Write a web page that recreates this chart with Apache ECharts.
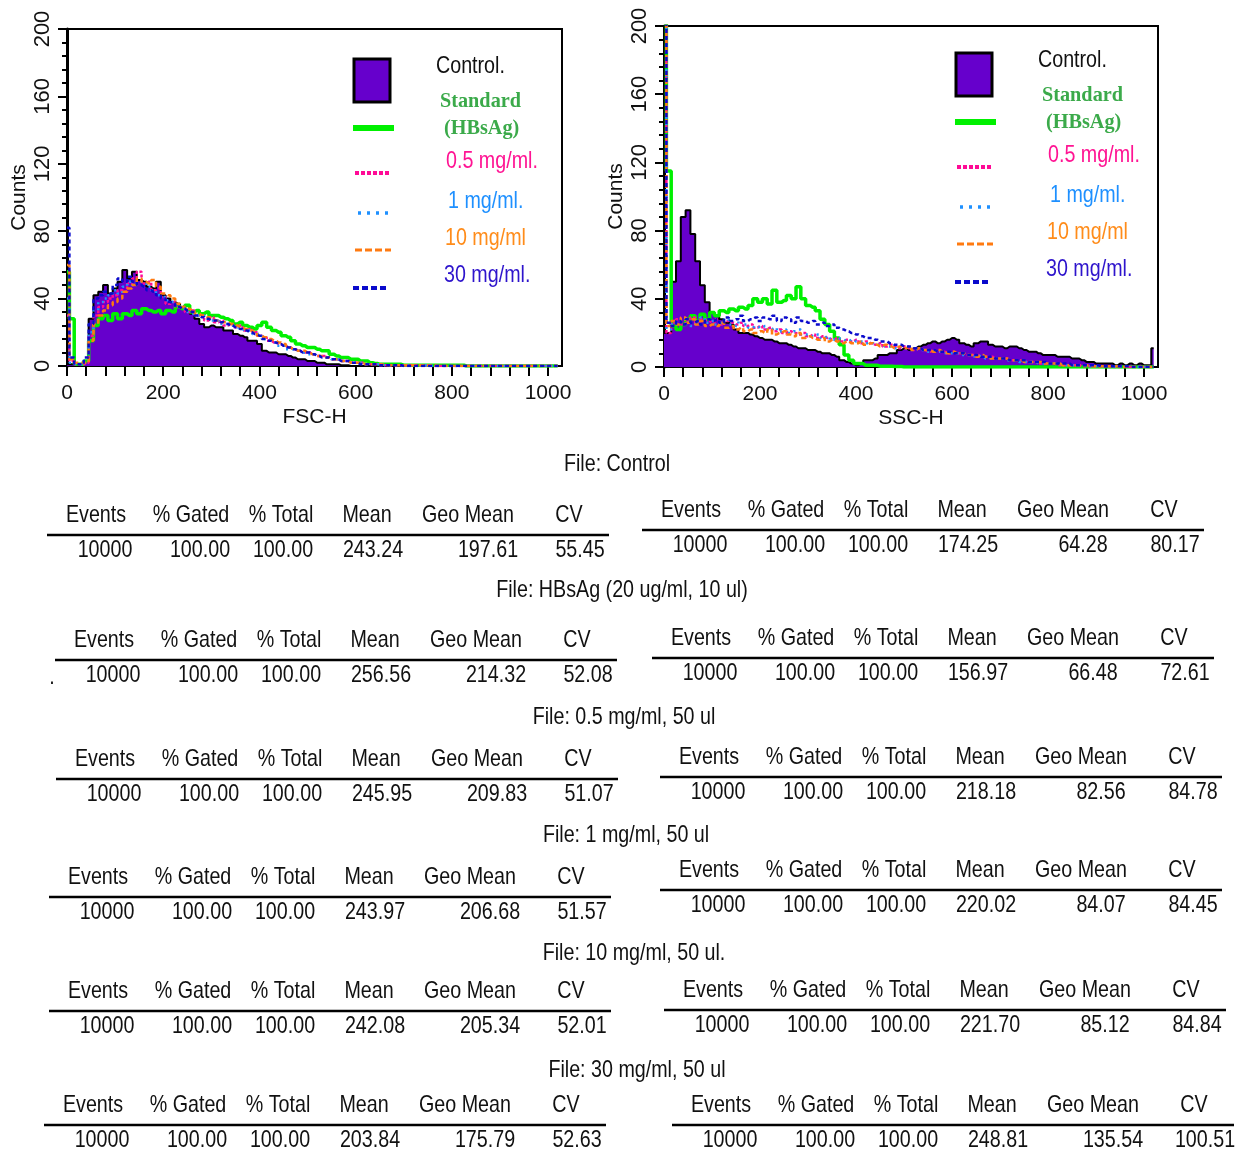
<!DOCTYPE html>
<html><head><meta charset="utf-8">
<script src="https://cdn.jsdelivr.net/npm/echarts@6/dist/echarts.min.js"></script>
<style>html,body{margin:0;padding:0;background:#fff}#c{width:1239px;height:1152px}</style>
</head><body><div id="c"></div>
<script>
// ---------- data ----------
const binWidth = 10; // channel bin width (FSC/SSC units)

// FSC-H histograms (counts per 10-channel bin, channels 0..1020)
const fscControl = [1,1,1,1,3,28,42,44,48,43, 46,50,57,52,56,51,50,47,46,50, 42,40,38,37,35,33,31,28,25,23, 24,23,23,21,21,19,18,17,15,15, 13,9,8,8,7,7,6,5,4,4, 3,3,2,2,1,1,1,0.5,0.5,0, 0,0,0,0,0,0,0,0,0,0, 0,0,0,0,0,0,0,0,0,0, 0,0,0,0,0,0,0,0,0,0, 0,0,0,0,0,0,0,0,0,0, 0,0,0];
const fscStandard = [56,28,1,1,3,15,24,28,30,27, 31,28,31,30,33,31,34,33,32,33, 31,33,32,35,34,36,32,33,31,32, 30,30,29,28,27,25,26,24,23,22, 24,26,23,21,20,18,17,15,13,12, 11,11,10,9,9,7,6,5,5,4, 4,3,3,2,1.5,1,1,1,1,1, 0.5,0.5,0.5,0.5,0.5,0.5,0.5,0.5,0.5,0.5, 0.5,0.5,0.5,0,0,0,0,0,0,0, 0,0,0,0,0,0,0,0,0,0, 0,0,0];
const fsc05 = [30,3,1,1,2,18,30,35,38,40, 42,45,44,49,52,56,49,50,45,46, 41,37,38,35,35,32,33,30,30,27, 29,26,27,24,25,23,24,21,22,20, 18,17,15,14,13,12,11,10,9,8, 8,7,6,6,5,4,4,3,3,2, 2,2,1,1,1,0.5,0.5,0.5,0.5,0.5, 0.5,0.5,0.5,0.5,0.5,0,0,0,0,0, 0,0,0,0,0,0,0,0,0,0, 0,0,0,0,0,0,0,0,0,0, 0,0,0];
const fsc1 = [40,2,1,1,3,20,33,38,40,42, 45,43,47,50,48,50,49,47,45,42, 41,39,38,35,34,32,31,30,30,28, 27,27,25,25,24,23,22,21,21,19, 19,16,15,14,12,12,10,10,9,8, 7,7,6,5,5,4,4,3,3,2, 2,2,1,1,1,1,0.5,0.5,0.5,0.5, 0.5,0.5,0.5,0.5,0.5,0.5,0,0,0,0, 0,0,0,0,0,0,0,0,0,0, 0,0,0,0,0,0,0,0,0,0, 0,0,0];
const fsc10 = [60,4,2,2,2,15,25,30,33,36, 38,40,44,46,48,52,50,49,51,47, 43,42,40,37,35,34,33,31,30,29, 28,27,26,26,25,24,23,22,21,20, 18,17,16,15,14,13,11,10,9,9, 8,7,6,6,5,4,4,3,3,2, 2,2,1,1,1,1,0.5,0.5,0.5,0.5, 0.5,0.5,0.5,0.5,0.5,0.5,0.5,0,0,0, 0,0,0,0,0,0,0,0,0,0, 0,0,0,0,0,0,0,0,0,0, 0,0,0];
const fsc30 = [82,5,1,1,5,25,40,42,44,43, 48,52,50,53,50,48,47,45,44,42, 40,38,37,35,34,33,32,30,29,28, 27,27,26,25,24,23,22,21,20,19, 18,16,15,14,13,12,11,10,9,8, 8,7,6,5,5,4,4,3,3,2, 2,1,1,1,1,0.5,0.5,0.5,0.5,0.5, 0,0,0,0,0,0,0,0,0,0, 0,0,0,0,0,0,0,0,0,0, 0,0,0,0,0,0,0,0,0,0, 0,0,0];

// SSC-H histograms
const sscControl = [20,20,50,62,88,92,78,62,48,38, 32,30,28,26,25,22,20,20,19,18, 17,16,16,15,14,14,13,12,11,11, 10,10,9,8,8,7,6,4,3,2, 1,2,4,4,5,7,7,8,8,10, 11,10,11,12,13,14,15,14,15,16, 17,16,14,13,12,14,15,15,13,12, 12,11,12,12,11,10,9,9,8,7, 7,7,6,6,6,5,5,4,3,3, 2,2,2,2,1,2,1,2,1,2, 1,1,11];
const sscStandard = [205,115,24,22,25,28,30,27,31,28, 32,30,33,32,34,33,35,34,36,40, 38,40,37,45,38,39,42,40,47,40, 36,35,33,28,25,21,17,13,7,4, 2,2,1,1,1,0.5,0.5,0.5,0.3,0.3, 0,0,0,0,0,0,0,0,0,0, 0,0,0,0,0,0,0,0,0,0, 0,0,0,0,0,0,0,0,0,0, 0,0,0,0,0,0,0,0,0,0, 0,0,0,0,0,0,0,0,0,0, 0,0,0];
const ssc05 = [205,20,26,28,25,27,29,26,28,27, 26,28,25,27,26,25,26,24,25,23, 24,22,23,21,22,20,21,20,19,20, 18,19,17,18,17,16,17,15,16,15, 16,14,15,14,13,14,12,13,12,11, 12,11,10,11,10,9,10,9,9,8, 9,8,8,7,7,7,6,6,6,5, 5,5,4,4,4,3,3,3,2,2, 2,2,1,1,1,1,1,0.5,0.5,0.5, 0.5,0.5,0.5,0,0,0,0,0,0,0, 0,0,0];
const ssc1 = [205,22,25,27,28,26,24,27,29,26, 27,25,26,28,25,24,27,25,23,24, 23,24,22,23,21,22,20,21,22,19, 19,18,19,17,18,16,17,16,15,16, 15,15,14,14,13,13,12,12,11,12, 11,10,11,10,10,9,9,9,8,8, 8,8,7,7,6,7,6,5,5,5, 5,4,4,4,3,3,3,3,2,2, 2,2,2,1,1,1,1,1,0.5,0.5, 0.5,0.5,0.5,0.5,0,0,0,0,0,0, 0,0,0];
const ssc10 = [205,24,27,25,29,26,28,25,27,24, 25,24,26,23,24,22,23,21,22,20, 21,20,22,19,20,21,19,18,20,17, 18,17,16,17,15,16,15,14,15,14, 14,15,13,14,13,12,13,12,11,12, 11,12,10,11,10,10,9,10,9,8, 9,8,8,7,7,6,7,6,5,5, 5,5,4,4,4,3,3,3,3,2, 2,2,2,1,1,1,1,1,1,0.5, 0.5,0.5,0.5,0.5,0.5,0,0,0,0,0, 0,0,0];
const ssc30 = [205,26,24,27,25,28,26,27,25,28, 27,28,26,29,27,28,30,27,28,29, 27,29,28,30,27,29,28,26,29,27, 26,27,25,26,24,25,23,22,21,20, 19,18,17,17,16,15,15,14,13,13, 12,12,11,11,10,10,10,9,9,9, 8,8,8,7,7,7,6,6,6,5, 5,5,4,4,4,4,3,3,3,3, 2,2,2,2,2,1,1,1,1,1, 1,0.5,0.5,0.5,0.5,0.5,0.5,0,0,0, 0,0,0];

// axis ticks
const xLabelValues = [0,200,400,600,800,1000];
const xTickValues = [0,40,80,120,160,200,240,280,320,360,400,440,480,520,560,600,640,680,720,760,800,840,880,920,960,1000];

// legend
const legendLabels = ['Control.','Standard','(HBsAg)','0.5 mg/ml.','1 mg/ml.','10 mg/ml','30 mg/ml.'];

// statistics tables
const statHeaders = ['Events','% Gated','% Total','Mean','Geo Mean','CV'];
const fileTitles = ['File: Control','File: HBsAg (20 ug/ml, 10 ul)','File: 0.5 mg/ml, 50 ul','File: 1 mg/ml, 50 ul','File: 10 mg/ml, 50 ul.','File: 30 mg/ml, 50 ul'];
const fscStats = [
  ['10000','100.00','100.00','243.24','197.61','55.45'],
  ['10000','100.00','100.00','256.56','214.32','52.08'],
  ['10000','100.00','100.00','245.95','209.83','51.07'],
  ['10000','100.00','100.00','243.97','206.68','51.57'],
  ['10000','100.00','100.00','242.08','205.34','52.01'],
  ['10000','100.00','100.00','203.84','175.79','52.63']
];
const sscStats = [
  ['10000','100.00','100.00','174.25','64.28','80.17'],
  ['10000','100.00','100.00','156.97','66.48','72.61'],
  ['10000','100.00','100.00','218.18','82.56','84.78'],
  ['10000','100.00','100.00','220.02','84.07','84.45'],
  ['10000','100.00','100.00','221.70','85.12','84.84'],
  ['10000','100.00','100.00','248.81','135.54','100.51']
];

// ---------- styles ----------
const SANS = "'Liberation Sans',Arial,sans-serif";
const SERIF = "'Liberation Serif','Times New Roman',serif";
const NARROW_SCALE = 0.82;
const C = {control:'#6600CC', standard:'#00F000', p05:'#FF0A96', p1:'#1E90FF', p10:'#FF7A10', p30:'#0A0ACC'};
const TXT = {control:'#111', standard:'#3BAA4A', p05:'#FF1493', p1:'#1E90FF', p10:'#FF8C1A', p30:'#2E14CC'};

const channels = fscControl.map((_, i) => i * binWidth);
const pair = arr => arr.map((v, i) => [channels[i], v]);

const grids = [
  {left: 67, top: 29, width: 495, height: 337},
  {left: 664, top: 26, width: 494, height: 341}
];

function xAxisCfg(gi, name) {
  return {
    type: 'value', gridIndex: gi, min: 0, max: 1029, name, nameLocation: 'middle', nameGap: 41,
    nameTextStyle: {fontFamily: SANS, fontSize: 21, color: '#111'},
    axisLine: {show: true, onZero: false, lineStyle: {color: '#000', width: 2}},
    axisTick: {show: true, length: 10, customValues: xTickValues, lineStyle: {color: '#000', width: 2}},
    axisLabel: {show: true, customValues: xLabelValues, formatter: v => String(v), margin: 17, fontFamily: SANS, fontSize: 21, color: '#111'},
    splitLine: {show: false}
  };
}
function yAxisCfg(gi) {
  return {
    type: 'value', gridIndex: gi, min: 0, max: 200, interval: 40, name: 'Counts', nameLocation: 'middle', nameGap: 37,
    nameRotate: 90, nameTextStyle: {fontFamily: SANS, fontSize: 21, color: '#111'},
    axisLine: {show: true, lineStyle: {color: '#000', width: 3}},
    axisTick: {show: true, length: 9, lineStyle: {color: '#000', width: 2}},
    minorTick: {show: true, splitNumber: 5, length: 5, lineStyle: {color: '#000', width: 2}},
    axisLabel: {rotate: 90, align: 'center', verticalAlign: 'bottom', margin: 13, fontFamily: SANS, fontSize: 22, color: '#111'},
    splitLine: {show: false}, minorSplitLine: {show: false}
  };
}

function histSeries(gi, ctrl, std, a, b, c, d) {
  const base = {type: 'line', xAxisIndex: gi, yAxisIndex: gi, step: 'middle', showSymbol: false, symbol: 'none', animation: false, silent: true};
  return [
    Object.assign({}, base, {name: 'Control', data: pair(ctrl), lineStyle: {color: '#000', width: 2}, areaStyle: {color: C.control, opacity: 1}, z: 2}),
    Object.assign({}, base, {name: 'Standard', data: pair(std), lineStyle: {color: C.standard, width: 3.5}, z: 3}),
    Object.assign({}, base, {name: '0.5', data: pair(a), lineStyle: {color: C.p05, width: 2.5, type: [3, 2]}, z: 4}),
    Object.assign({}, base, {name: '1', data: pair(b), lineStyle: {color: C.p1, width: 2.5, type: [2, 4]}, z: 5}),
    Object.assign({}, base, {name: '10', data: pair(c), lineStyle: {color: C.p10, width: 2.5, type: [5, 3]}, z: 6}),
    Object.assign({}, base, {name: '30', data: pair(d), lineStyle: {color: C.p30, width: 2.5, type: [4, 3]}, z: 7})
  ];
}

// ---------- graphic: legends ----------
const graphics = [];
function txt(x, y, text, font, fill, align, sx) {
  graphics.push({type: 'text', silent: true, z: 100, x, y, scaleX: sx || NARROW_SCALE, scaleY: 1,
    style: {x: 0, y: 0, text, font, fill,
      textAlign: align || 'left', textVerticalAlign: 'middle', align: align || 'left', verticalAlign: 'middle'}});
}
function seg(x1, y1, x2, y2, stroke, w, dash) {
  graphics.push({type: 'line', silent: true, z: 100, shape: {x1, y1, x2, y2},
    style: {stroke, lineWidth: w, lineDash: dash || null}});
}
function legend(dx, dy) {
  graphics.push({type: 'rect', silent: true, z: 100, shape: {x: 354 + dx, y: 59 + dy, width: 36, height: 43},
    style: {fill: C.control, stroke: '#000', lineWidth: 3}});
  seg(353 + dx, 128 + dy, 394 + dx, 128 + dy, C.standard, 6);
  seg(355 + dx, 173 + dy, 390 + dx, 173 + dy, C.p05, 4, [4, 2]);
  seg(358 + dx, 213 + dy, 390 + dx, 213 + dy, C.p1, 3.5, [3, 6]);
  seg(355 + dx, 250 + dy, 391 + dx, 250 + dy, C.p10, 3, [7, 3]);
  seg(353 + dx, 288 + dy, 388 + dx, 288 + dy, C.p30, 4, [6, 3]);
  const nf = '24px ' + SANS, sf = 'bold 22px ' + SERIF;
  txt(436 + dx, 66 + dy, legendLabels[0], nf, TXT.control);
  txt(440 + dx, 101 + dy, legendLabels[1], sf, TXT.standard, 'left', 0.92);
  txt(444 + dx, 128 + dy, legendLabels[2], sf, TXT.standard, 'left', 0.92);
  txt(446 + dx, 161 + dy, legendLabels[3], nf, TXT.p05);
  txt(448 + dx, 201 + dy, legendLabels[4], nf, TXT.p1);
  txt(445 + dx, 238 + dy, legendLabels[5], nf, TXT.p10);
  txt(444 + dx, 275 + dy, legendLabels[6], nf, TXT.p30);
}
legend(0, 0);
legend(602, -6);

// ---------- graphic: statistics tables ----------
const titlePos = [[617,464],[622,590],[624,717],[626,835],[634,953],[637,1070]];
const tablePos = [[47,535,642,530],[55,660,652,658],[56,779,660,777],[49,897,660,890],[49,1011,664,1010],[44,1125,672,1125]];
const headerOffsets = [49,144,234,320,421,522];
const valueOffsets = [58,153,236,326,441,533];
const tableLen = 562;
const tf = '24px ' + SANS;
function table(x0, y0, values) {
  statHeaders.forEach((h, k) => txt(x0 + headerOffsets[k], y0 - 20, h, tf, '#111', 'center'));
  seg(x0, y0, x0 + tableLen, y0, '#000', 2.5);
  values.forEach((v, k) => txt(x0 + valueOffsets[k], y0 + 15, v, tf, '#111', 'center'));
}
fileTitles.forEach((t, i) => {
  txt(titlePos[i][0], titlePos[i][1], t, tf, '#111', 'center');
  table(tablePos[i][0], tablePos[i][1], fscStats[i]);
  table(tablePos[i][2], tablePos[i][3], sscStats[i]);
});
txt(52, 677, '.', tf, '#111', 'center');

// ---------- chart ----------
const chart = echarts.init(document.getElementById('c'), null, {renderer: 'canvas'});
chart.setOption({
  animation: false,
  backgroundColor: '#fff',
  grid: grids.map(g => Object.assign({show: true, borderColor: '#000', borderWidth: 2, backgroundColor: 'transparent', containLabel: false}, g)),
  xAxis: [xAxisCfg(0, 'FSC-H'), xAxisCfg(1, 'SSC-H')],
  yAxis: [yAxisCfg(0), yAxisCfg(1)],
  series: [].concat(
    histSeries(0, fscControl, fscStandard, fsc05, fsc1, fsc10, fsc30),
    histSeries(1, sscControl, sscStandard, ssc05, ssc1, ssc10, ssc30)
  ),
  graphic: graphics
});
</script>
</body></html>
